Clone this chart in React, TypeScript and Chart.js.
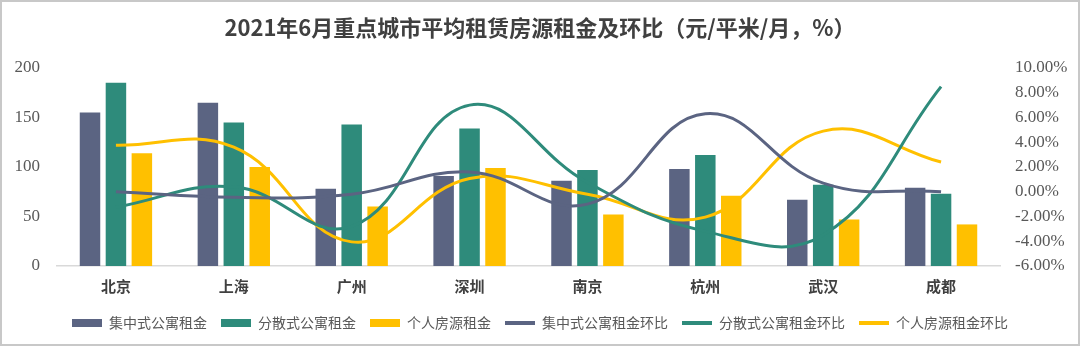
import { useEffect, useRef } from 'react';
import { Chart, registerables } from 'chart.js';

Chart.register(...registerables);

const cities = ['北京', '上海', '广州', '深圳', '南京', '杭州', '武汉', '成都'];
const centralRent = [155, 165, 78, 91, 86, 98, 67, 79];
const scatteredRent = [185, 145, 143, 139, 97, 112, 82, 73];
const personalRent = [114, 100, 60, 99, 52, 71, 47, 42];
const centralMoM = [0.0, -0.45, -0.2, 1.6, -1.0, 6.3, 0.7, 0.0];
const scatteredMoM = [-1.25, 0.4, -2.8, 7.0, 0.75, -3.2, -3.5, 8.5];
const personalMoM = [3.75, 3.6, -4.05, 1.07, -0.2, -2.05, 4.9, 2.4];
const leftTicks = [0, 50, 100, 150, 200];
const rightTicks = [-6, -4, -2, 0, 2, 4, 6, 8, 10];

const titleText = '2021年6月重点城市平均租赁房源租金及环比（元/平米/月，%）';

const DARK = '#5b6482';
const GREEN = '#2e8b7b';
const YELLOW = '#ffc000';

const CJK = "'Noto Sans CJK SC', 'Noto Sans', sans-serif";
const SERIF = "'Liberation Serif', 'DejaVu Serif', serif";

const framePlugin = {
  id: 'frame',
  afterDraw(chart: any) {
    const ctx = chart.ctx;
    ctx.save();
    ctx.strokeStyle = '#c8c8c8';
    ctx.lineWidth = 2;
    ctx.strokeRect(1, 1, chart.width - 2, chart.height - 2);
    ctx.restore();
  },
};

export default function App() {
  const ref = useRef<HTMLCanvasElement | null>(null);

  useEffect(() => {
    if (!ref.current) return;
    const lineDs = (label: string, data: number[], color: string) => ({
      type: 'line' as const,
      label,
      data,
      yAxisID: 'y1',
      borderColor: color,
      backgroundColor: color,
      borderWidth: 3,
      pointRadius: 0,
      tension: 0.42,
      order: 0,
    });
    const barDs = (label: string, data: number[], color: string) => ({
      type: 'bar' as const,
      label,
      data,
      yAxisID: 'y',
      backgroundColor: color,
      borderWidth: 0,
      categoryPercentage: 0.66,
      barPercentage: 0.79,
      order: 1,
    });

    const chart = new Chart(ref.current, {
      type: 'bar',
      data: {
        labels: cities,
        datasets: [
          barDs('集中式公寓租金', centralRent, DARK),
          barDs('分散式公寓租金', scatteredRent, GREEN),
          barDs('个人房源租金', personalRent, YELLOW),
          lineDs('集中式公寓租金环比', centralMoM, DARK),
          lineDs('分散式公寓租金环比', scatteredMoM, GREEN),
          lineDs('个人房源租金环比', personalMoM, YELLOW),
        ] as any,
      },
      options: {
        responsive: false,
        animation: false,
        devicePixelRatio: 1,
        layout: { padding: { top: 0, bottom: 6, left: 0, right: 0 } },
        plugins: {
          tooltip: { enabled: false },
          title: {
            display: true,
            text: titleText,
            color: '#404040',
            font: { family: CJK, size: 22, weight: 'bold', lineHeight: 1.2 },
            padding: { top: 14, bottom: 27.6 },
          },
          legend: {
            position: 'bottom',
            labels: {
              usePointStyle: true,
              pointStyleWidth: 30,
              boxHeight: 8,
              padding: 14,
              color: '#595959',
              font: { family: CJK, size: 14 },
              sort: (a: any, b: any) => a.datasetIndex - b.datasetIndex,
              generateLabels: (c: any) => {
                const items = (Chart.defaults.plugins.legend.labels as any).generateLabels(c);
                return items.map((it: any) => {
                  const ds = c.data.datasets[it.datasetIndex];
                  const isLine = ds.type === 'line';
                  const col = isLine ? ds.borderColor : ds.backgroundColor;
                  return {
                    ...it,
                    pointStyle: isLine ? 'line' : 'rect',
                    fillStyle: col,
                    strokeStyle: col,
                    lineWidth: isLine ? 4 : 0,
                  };
                });
              },
            },
          },
        },
        scales: {
          x: {
            grid: { display: false, drawTicks: false },
            border: { display: true, color: '#d9d9d9', width: 1.5 },
            ticks: {
              color: '#404040',
              padding: 11,
              font: { family: CJK, size: 15, weight: 'bold' },
            },
            afterFit: (s: any) => {
              s.height = 36;
            },
          },
          y: {
            position: 'left',
            min: 0,
            max: 200,
            grid: { display: false, drawTicks: false },
            border: { display: false },
            afterBuildTicks: (s: any) => {
              s.ticks = leftTicks.map((v) => ({ value: v }));
            },
            ticks: {
              color: '#595959',
              padding: 17,
              font: { family: SERIF, size: 17 },
            },
            afterFit: (s: any) => {
              s.width = 57;
            },
          },
          y1: {
            position: 'right',
            min: -6,
            max: 10,
            grid: { display: false, drawTicks: false },
            border: { display: false },
            afterBuildTicks: (s: any) => {
              s.ticks = rightTicks.map((v) => ({ value: v }));
            },
            ticks: {
              color: '#595959',
              padding: 15,
              font: { family: SERIF, size: 17 },
              callback: (v: any) => Number(v).toFixed(2) + '%',
            },
            afterFit: (s: any) => {
              s.width = 80;
            },
          },
        },
      } as any,
      plugins: [framePlugin],
    });
    return () => chart.destroy();
  }, []);

  return (
    <div style={{ position: 'absolute', left: 0, top: 0, width: 1080, height: 346, background: '#fff' }}>
      <canvas ref={ref} width={1080} height={346} style={{ display: 'block' }} />
    </div>
  );
}
